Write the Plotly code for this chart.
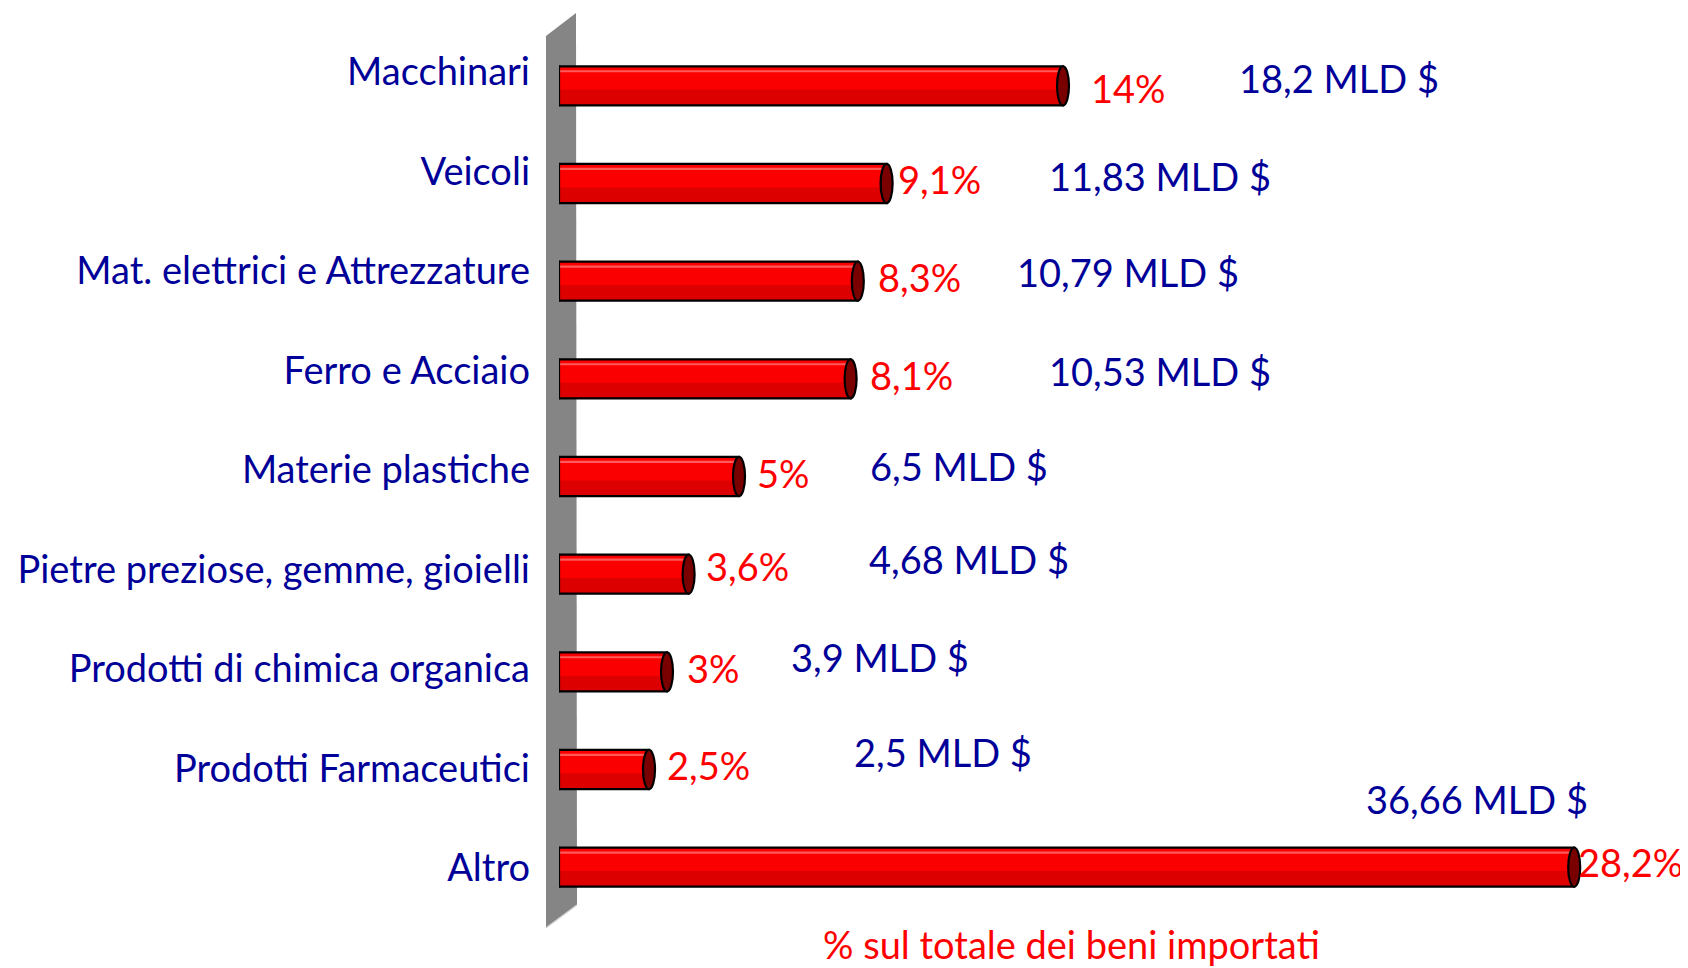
import plotly.graph_objects as go

# ---------------- data ----------------
categories = [
    "Macchinari",
    "Veicoli",
    "Mat. elettrici e Attrezzature",
    "Ferro e Acciaio",
    "Materie plastiche",
    "Pietre preziose, gemme, gioielli",
    "Prodotti di chimica organica",
    "Prodotti Farmaceutici",
    "Altro",
]
pct_values = [14, 9.1, 8.3, 8.1, 5, 3.6, 3, 2.5, 28.2]
pct_labels = ["14%", "9,1%", "8,3%", "8,1%", "5%", "3,6%", "3%", "2,5%", "28,2%"]
usd_labels = ["18,2 MLD $", "11,83 MLD $", "10,79 MLD $", "10,53 MLD $", "6,5 MLD $",
              "4,68 MLD $", "3,9 MLD $", "2,5 MLD $", "36,66 MLD $"]
axis_title = "% sul totale dei beni importati"

# label placement (axis units / pixel shifts)
usd_label_x = [18.83, 13.55, 12.66, 13.55, 8.59, 8.56, 6.38, 8.14, 22.35]
usd_label_dy = [8, 8, 9, 8, 11, 15, 15, 18, 68]
pct_label_dx = [26, 9, 18, 17, 16, 15, 18, 16, 2]
pct_label_dy = [-2, 5, 4, 4, 4, 8, 4, 5, 5]

# ---------------- style ----------------
OFF = 8                      # page body margin of the html page
W, H = 1688 - OFF, 968 - OFF
ML, MR, MT, MB = 559 - OFF, 4, 37 - OFF, 52
FONT = "Lato"
BLUE = "#000099"
RED = "#ff0000"
FS = 38
BW = 0.40  # bar thickness in category units
XMAX = 31.25

fig = go.Figure()
# main fill
fig.add_trace(go.Bar(x=pct_values, y=categories, orientation="h", width=BW,
                     marker=dict(color="#fb0000", line=dict(width=0)),
                     hoverinfo="skip", showlegend=False))
# darker lower part
fig.add_trace(go.Bar(x=pct_values, y=categories, orientation="h", width=0.16, offset=BW / 2 - 0.16,
                     marker=dict(color="#dc0000", line=dict(width=0)),
                     hoverinfo="skip", showlegend=False))
# highlight line near top
fig.add_trace(go.Bar(x=pct_values, y=categories, orientation="h", width=0.022, offset=-BW / 2 + 0.04,
                     marker=dict(color="#ff5a5a", line=dict(width=0)),
                     hoverinfo="skip", showlegend=False))
# outline
fig.add_trace(go.Bar(x=pct_values, y=categories, orientation="h", width=BW,
                     marker=dict(color="rgba(0,0,0,0)", line=dict(color="black", width=2.2)),
                     hoverinfo="skip", showlegend=False))
# invisible trace carrying the category labels on a second axis
fig.add_trace(go.Scatter(x=[0] * len(categories), y=categories, yaxis="y2", mode="markers",
                         marker=dict(opacity=0), hoverinfo="skip", showlegend=False))

pw = W - ML - MR
ph = H - MT - MB


def px(xp):  # page pixel -> paper
    return (xp - OFF - ML) / pw


def py(yp):
    return 1 - (yp - OFF - MT) / ph


shapes = []
# grey wall
wall = [(546, 36), (576, 13), (577, 905), (546, 928)]
path = "M " + " L ".join(f"{px(a):.5f},{py(b):.5f}" for a, b in wall) + " Z"
shapes.append(dict(type="path", xref="paper", yref="paper", path=path,
                   fillcolor="#858585", line=dict(width=0), layer="below"))
shapes.append(dict(type="line", xref="paper", yref="paper",
                   x0=px(546), y0=py(928), x1=px(577), y1=py(905),
                   line=dict(color="#d8d8d8", width=1.5), layer="below"))

for i, v in enumerate(pct_values):
    # left end of cylinder
    shapes.append(dict(type="circle", xref="x", yref="y", xsizemode="pixel", xanchor=0,
                       x0=-6, x1=6, y0=i - BW / 2, y1=i + BW / 2,
                       fillcolor="#f00000", line=dict(color="black", width=2.2), layer="below"))
    # right end cap
    shapes.append(dict(type="circle", xref="x", yref="y", xsizemode="pixel", xanchor=v,
                       x0=-6, x1=6, y0=i - BW / 2, y1=i + BW / 2,
                       fillcolor="#7a0000", line=dict(color="black", width=2.2), layer="above"))

annotations = []
for i, (v, t) in enumerate(zip(pct_values, pct_labels)):
    annotations.append(dict(x=v, y=i, xref="x", yref="y", text=t, showarrow=False,
                            xanchor="left", yanchor="middle", xshift=pct_label_dx[i],
                            yshift=pct_label_dy[i], font=dict(family=FONT, size=FS, color=RED)))
for i, t in enumerate(usd_labels):
    annotations.append(dict(x=usd_label_x[i], y=i, xref="x", yref="y", text=t, showarrow=False,
                            xanchor="left", yanchor="middle", yshift=usd_label_dy[i],
                            font=dict(family=FONT, size=FS, color=BLUE)))
annotations.append(dict(x=px(1071), y=py(944), xref="paper", yref="paper", text=axis_title,
                        showarrow=False, xanchor="center", yanchor="middle",
                        font=dict(family=FONT, size=FS, color=RED)))

# label axis: labels sit slightly higher at top, spaced 99.5 px
lab_top, lab_step = 72 - OFF, 99.5
y2_range = [(MT + ph - lab_top) / lab_step, (MT - lab_top) / lab_step]

fig.update_layout(
    width=W, height=H,
    margin=dict(l=ML, r=MR, t=MT, b=MB, pad=0),
    paper_bgcolor="white", plot_bgcolor="white",
    barmode="overlay",
    showlegend=False,
    shapes=shapes,
    annotations=annotations,
    xaxis=dict(range=[0, XMAX], visible=False, showgrid=False, zeroline=False),
    yaxis=dict(type="category", range=[len(categories) - 0.5, -0.5], autorange=False,
               showgrid=False, zeroline=False, showline=False, ticks="", showticklabels=False,
               categoryorder="array", categoryarray=categories),
    yaxis2=dict(type="category", overlaying="y", side="left", anchor="x",
                range=y2_range, autorange=False,
                categoryorder="array", categoryarray=categories,
                showgrid=False, zeroline=False, showline=False, ticks="",
                ticklabelstandoff=28,
                tickfont=dict(family=FONT, size=FS, color=BLUE)),
)

fig.write_html("out.html")
